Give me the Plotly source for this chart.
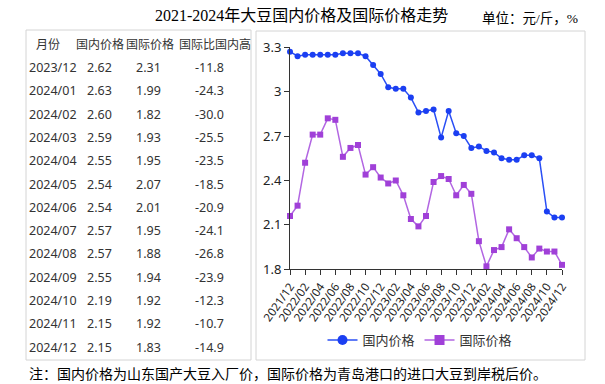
import plotly.graph_objects as go

W, H = 605, 384

months = ["2021/12", "2022/01", "2022/02", "2022/03", "2022/04", "2022/05", "2022/06",
          "2022/07", "2022/08", "2022/09", "2022/10", "2022/11", "2022/12",
          "2023/01", "2023/02", "2023/03", "2023/04", "2023/05", "2023/06",
          "2023/07", "2023/08", "2023/09", "2023/10", "2023/11", "2023/12",
          "2024/01", "2024/02", "2024/03", "2024/04", "2024/05", "2024/06",
          "2024/07", "2024/08", "2024/09", "2024/10", "2024/11", "2024/12"]

domestic = [3.27, 3.24, 3.25, 3.25, 3.25, 3.25, 3.25, 3.26, 3.26, 3.26, 3.24, 3.18, 3.12,
            3.03, 3.02, 3.02, 2.96, 2.86, 2.87, 2.88, 2.69, 2.87, 2.72, 2.70, 2.62,
            2.63, 2.60, 2.59, 2.55, 2.54, 2.54, 2.57, 2.57, 2.55, 2.19, 2.15, 2.15]

international = [2.16, 2.23, 2.52, 2.71, 2.71, 2.82, 2.81, 2.56, 2.62, 2.64, 2.44, 2.49, 2.42,
                 2.38, 2.40, 2.30, 2.14, 2.09, 2.16, 2.39, 2.43, 2.41, 2.30, 2.37, 2.31,
                 1.99, 1.82, 1.93, 1.95, 2.07, 2.01, 1.95, 1.88, 1.94, 1.92, 1.92, 1.83]

y_ticks = [1.8, 2.1, 2.4, 2.7, 3.0, 3.3]

table_header = ["月份", "国内价格", "国际价格", "国际比国内高"]
table_months = ["2023/12", "2024/01", "2024/02", "2024/03", "2024/04", "2024/05", "2024/06",
                "2024/07", "2024/08", "2024/09", "2024/10", "2024/11", "2024/12"]
table_dom = ["2.62", "2.63", "2.60", "2.59", "2.55", "2.54", "2.54", "2.57", "2.57", "2.55", "2.19", "2.15", "2.15"]
table_intl = ["2.31", "1.99", "1.82", "1.93", "1.95", "2.07", "2.01", "1.95", "1.88", "1.94", "1.92", "1.92", "1.83"]
table_diff = ["-11.8", "-24.3", "-30.0", "-25.5", "-23.5", "-18.5", "-20.9", "-24.1", "-26.8", "-23.9", "-12.3", "-10.7", "-14.9"]

title_text = "2021-2024年大豆国内价格及国际价格走势"
unit_text = "单位：元/斤，%"
note_text = "注：国内价格为山东国产大豆入厂价，国际价格为青岛港口的进口大豆到岸税后价。"
series_names = ["国内价格", "国际价格"]

BLUE = "#1b3ff2"
BLUE_LINE = "#2a4ff5"
PURPLE = "#a040d8"
PURPLE_LINE = "#b266e2"

SANS = "Noto Sans, Noto Sans CJK SC"
SERIF = "Liberation Serif, Noto Sans CJK SC"


def px(x):
    return x / W


def py(y):
    return 1 - y / H


fig = go.Figure()
fig.add_trace(go.Scatter(x=months, y=domestic, mode="lines+markers", name=series_names[0],
                         line=dict(color=BLUE_LINE, width=1.5),
                         marker=dict(color=BLUE, size=6, symbol="circle"),
                         cliponaxis=False, showlegend=False))
fig.add_trace(go.Scatter(x=months, y=international, mode="lines+markers", name=series_names[1],
                         line=dict(color=PURPLE_LINE, width=1.5),
                         marker=dict(color=PURPLE, size=6, symbol="square"),
                         cliponaxis=False, showlegend=False))
# legend proxies (bigger symbols like the reference legend)
fig.add_trace(go.Scatter(x=[None], y=[None], mode="lines+markers", name=series_names[0],
                         line=dict(color=BLUE_LINE, width=1.5),
                         marker=dict(color=BLUE, size=10, symbol="circle")))
fig.add_trace(go.Scatter(x=[None], y=[None], mode="lines+markers", name=series_names[1],
                         line=dict(color=PURPLE_LINE, width=1.5),
                         marker=dict(color=PURPLE, size=10, symbol="square")))

annotations = []
annotations.append(dict(text=title_text, x=px(301), y=py(15), xref="paper", yref="paper",
                        showarrow=False, xanchor="center", yanchor="middle",
                        font=dict(family=SERIF, size=16, color="#000")))
annotations.append(dict(text=unit_text, x=px(480), y=py(18), xref="paper", yref="paper",
                        showarrow=False, xanchor="left", yanchor="middle",
                        font=dict(family=SERIF, size=13.5, color="#000")))
annotations.append(dict(text=note_text, x=px(27), y=py(374), xref="paper", yref="paper",
                        showarrow=False, xanchor="left", yanchor="middle",
                        font=dict(family=SERIF, size=14, color="#000")))

# table
hdr_y = 44
col_x = [47.5, 100, 150, 177]
col_anchor = ["center", "center", "center", "left"]
for t, cx, an in zip(table_header, col_x, col_anchor):
    annotations.append(dict(text=t, x=px(cx), y=py(hdr_y), xref="paper", yref="paper",
                            showarrow=False, xanchor=an, yanchor="middle",
                            font=dict(family=SANS, size=12, color="#333")))
row0, dy = 67.5, 23.3
for i, (m, d, it, df) in enumerate(zip(table_months, table_dom, table_intl, table_diff)):
    yy = py(row0 + i * dy)
    for t, cx, an in [(m, 27, "left"), (d, 99.5, "center"), (it, 148.5, "center"), (df, 226, "right")]:
        annotations.append(dict(text=t, x=px(cx), y=yy, xref="paper", yref="paper",
                                showarrow=False, xanchor=an, yanchor="middle",
                                font=dict(family=SANS, size=12.5, color="#333")))

shapes = [
    dict(type="rect", xref="paper", yref="paper", x0=px(26), x1=px(251), y0=py(360), y1=py(30),
         line=dict(color="#d4d4d4", width=1)),
    dict(type="rect", xref="paper", yref="paper", x0=px(256), x1=px(585), y0=py(360), y1=py(31),
         line=dict(color="#d4d4d4", width=1)),
]

fig.update_layout(
    width=W, height=H,
    margin=dict(l=0, r=0, t=0, b=0, pad=0, autoexpand=False),
    paper_bgcolor="white", plot_bgcolor="white",
    annotations=annotations, shapes=shapes,
    legend=dict(orientation="h", x=px(420), y=py(340), xanchor="center", yanchor="middle",
                font=dict(family=SANS, size=13, color="#333"), bgcolor="rgba(0,0,0,0)"),
    xaxis=dict(domain=[px(290), px(562)], type="category", range=[0, 36], automargin=False,
               tickmode="linear", tick0=0, dtick=2, tickangle=-55,
               showline=True, linecolor="#333", linewidth=1, ticks="outside", ticklen=5,
               tickcolor="#333", showgrid=False, zeroline=False,
               tickfont=dict(family=SANS, size=11.5, color="#222")),
    yaxis=dict(domain=[py(269.3), py(47.3)], range=[1.8, 3.3], tickvals=y_ticks, automargin=False,
               showline=True, linecolor="#333", linewidth=1, ticks="outside", ticklen=5,
               tickcolor="#333", showgrid=False, zeroline=False,
               tickfont=dict(family=SANS, size=13, color="#222")),
)

fig.write_html("out.html", config={"displayModeBar": False},
               post_script="document.body.style.margin='0';document.body.style.padding='0';")
